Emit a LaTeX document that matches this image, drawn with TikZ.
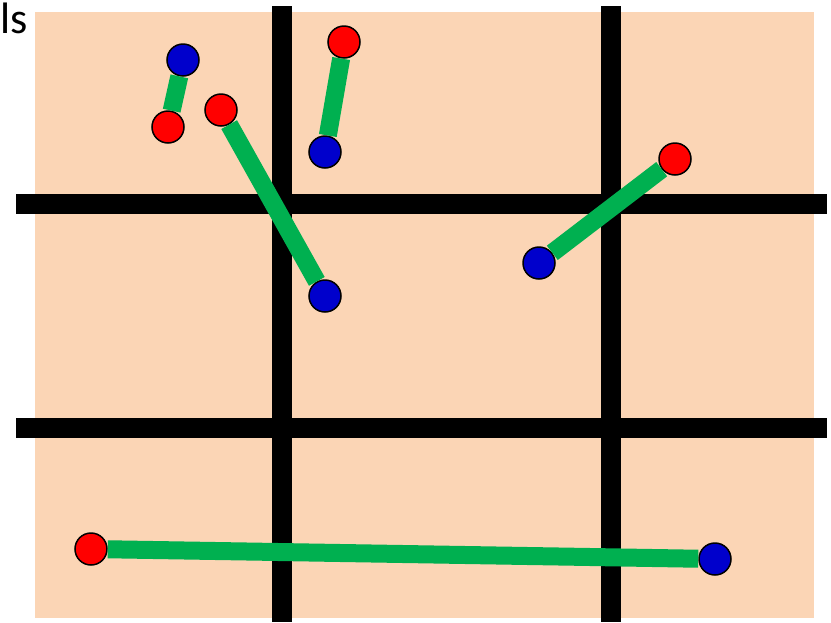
\documentclass[tikz,border=0pt]{standalone}
\usepackage{fontspec}
\setmainfont{Carlito}
\definecolor{cellpeach}{RGB}{251, 213, 181}
\definecolor{bondgreen}{RGB}{0, 176, 80}
\definecolor{headblue}{RGB}{0, 0, 204}
\definecolor{tailred}{RGB}{255, 0, 0}
\usetikzlibrary{positioning}

\begin{document}
\begin{tikzpicture}[x=1pt,y=-1pt,
    gridline/.style={line width=20pt,black},
    bond/.style={line width=18pt,bondgreen},
    bead/.style={circle,draw=black,line width=1.5pt,minimum size=32pt,inner sep=0pt}]
    \useasboundingbox (0,0) rectangle (831,622);
    \fill[cellpeach] (35,12) rectangle (814,618);
    \node[anchor=base west,inner sep=0pt,font=\fontsize{44}{44}\selectfont] (title) at (0,33) {ls};
    % cell boundaries
    \draw[gridline] (281.5,6) -- (281.5,622);
    \draw[gridline] (610.5,6) -- (610.5,622);
    \draw[gridline] (16,203.5) -- (827,203.5);
    \draw[gridline] (16,427.5) -- (827,427.5);
    % particles
    \node[bead,fill=headblue] (b1) at (183,60) {};
    \node[bead,fill=tailred] (r1) at (168,127) {};
    \node[bead,fill=tailred] (r2) at (221,110) {};
    \node[bead,fill=headblue] (b2) at (325,296) {};
    \node[bead,fill=tailred] (r3) at (344,42) {};
    \node[bead,fill=headblue] (b3) at (325,152) {};
    \node[bead,fill=tailred] (r4) at (675,159) {};
    \node[bead,fill=headblue] (b4) at (539,263) {};
    \node[bead,fill=tailred] (r5) at (91,549) {};
    \node[bead,fill=headblue] (b5) at (715,559) {};
    % bonds
    \draw[bond] (r1) -- (b1);
    \draw[bond] (r2) -- (b2);
    \draw[bond] (r3) -- (b3);
    \draw[bond] (r4) -- (b4);
    \draw[bond] (r5) -- (b5);
\end{tikzpicture}
\end{document}
